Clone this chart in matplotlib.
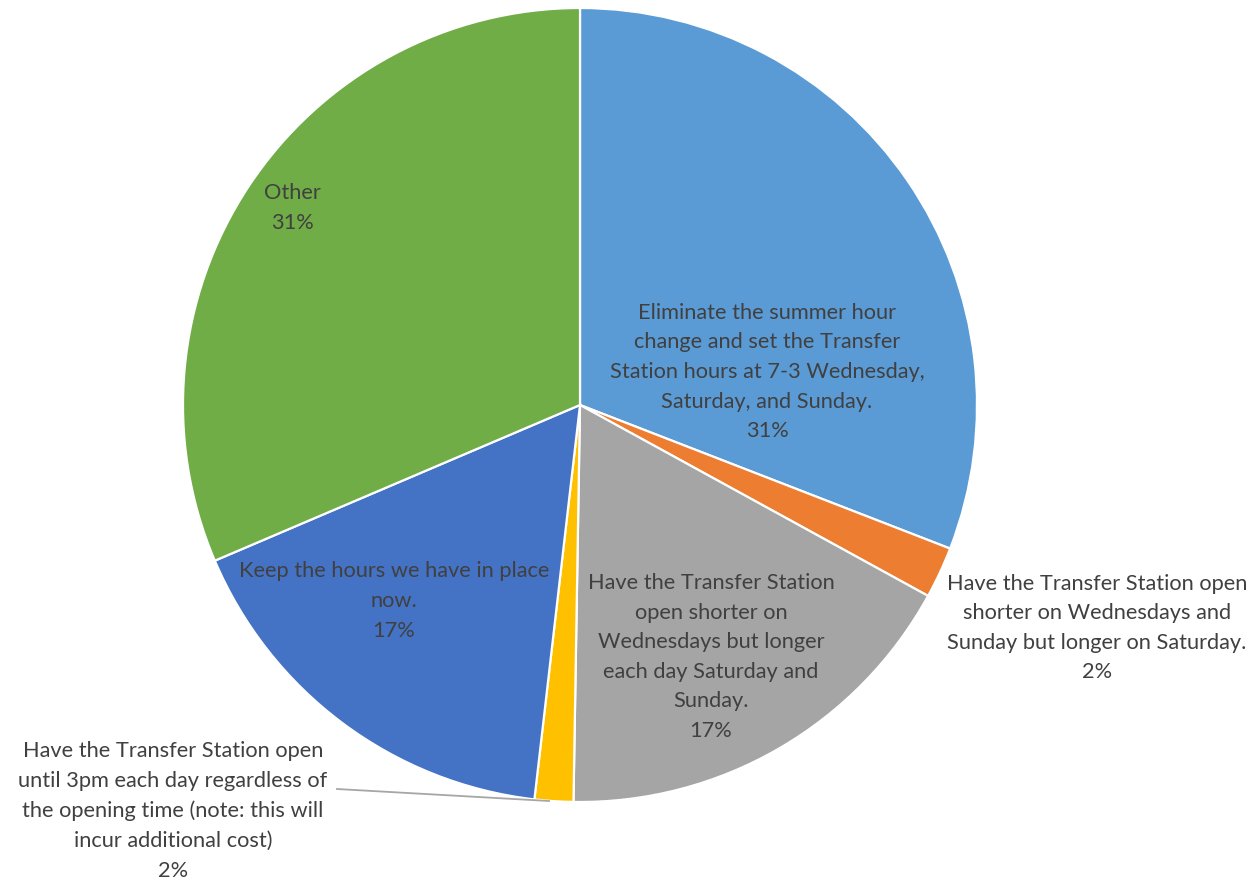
import matplotlib.pyplot as plt

# survey responses, clockwise from 12 o'clock
options = [
    "Eliminate the summer hour\nchange and set the Transfer\nStation hours at 7-3 Wednesday,\nSaturday, and Sunday.",
    "Have the Transfer Station open\nshorter on Wednesdays and\nSunday but longer on Saturday.",
    "Have the Transfer Station\nopen shorter on\nWednesdays but longer\neach day Saturday and\nSunday.",
    "Have the Transfer Station open\nuntil 3pm each day regardless of\nthe opening time (note: this will\nincur additional cost)",
    "Keep the hours we have in place\nnow.",
    "Other",
]
responses = [59, 4, 33, 3, 32, 60]
colors = ["#5B9BD5", "#ED7D31", "#A5A5A5", "#FFC000", "#4472C4", "#70AD47"]

W, H = 1258, 882
cx, cy, r = 580, 405, 397

fig = plt.figure(figsize=(W / 100, H / 100), dpi=100)
ax = fig.add_axes([(cx - r) / W, (H - cy - r) / H, 2 * r / W, 2 * r / H])
ax.pie(responses, colors=colors, startangle=90, counterclock=False, radius=1,
       wedgeprops=dict(edgecolor="white", linewidth=1.6))
ax.set_xlim(-1, 1)
ax.set_ylim(-1, 1)
ax.axis("off")


def px(x, y):
    return (x - cx) / r, (cy - y) / r


# label centres in pixel space of the figure
label_pos = [(767, 372), (1097, 628), (711, 657), (173, 811), (394, 601), (292, 208)]
total = sum(responses)
for text, n, (x, y) in zip(options, responses, label_pos):
    tx, ty = px(x, y)
    ax.text(tx, ty, f"{text}\n{n / total:.0%}", ha="center", va="center",
            multialignment="center", fontsize=15.7, family="Lato",
            color="#404040", linespacing=1.6, clip_on=False)

# leader line for the small yellow slice
(x0, y0), (x1, y1) = px(549, 801), px(337, 789)
ax.plot([x0, x1], [y0, y1], color="#A6A6A6", lw=1.3, clip_on=False)

fig.savefig("out.png", dpi=100, facecolor="white")
